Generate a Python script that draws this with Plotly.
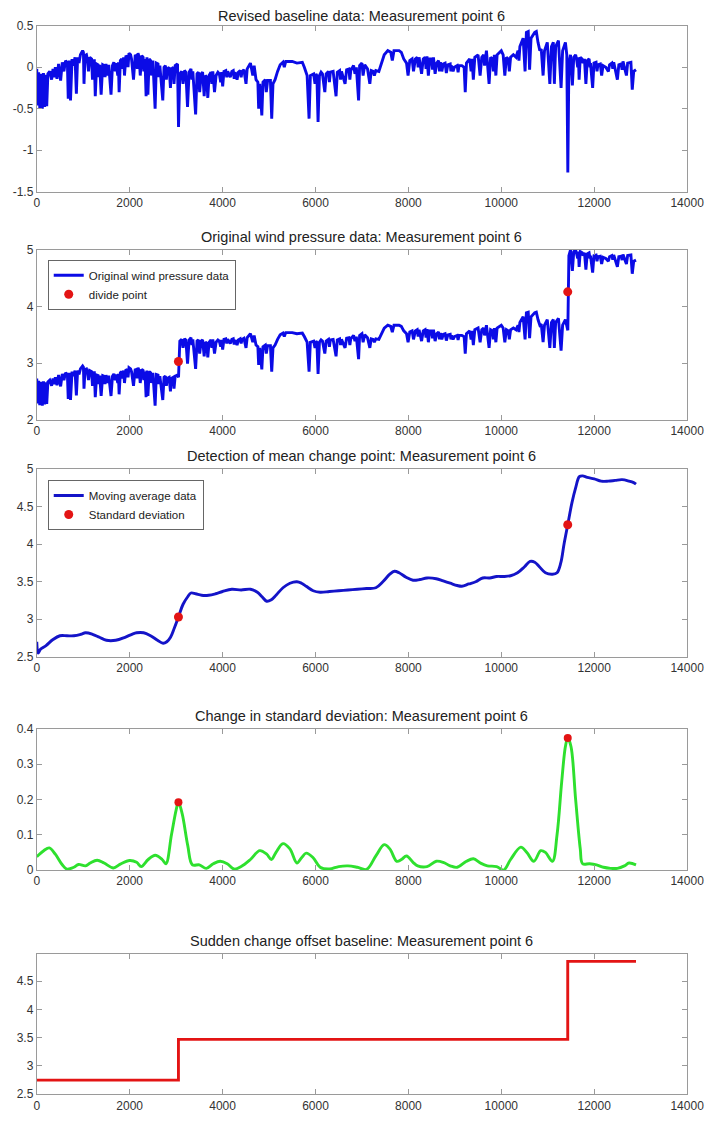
import numpy as np
import plotly.graph_objects as go

# ---------------- data ----------------
# Baseline-corrected residual of the wind pressure record: (sample index, value)
resid_pts = [
    # before the first change point
    (0, -0.02), (20, -0.46), (40, -0.06), (65, -0.49), (90, -0.08), (120, -0.50), (145, -0.07), (170, -0.48), (195, -0.09), (215, -0.47),
    (240, -0.08), (280, -0.05), (320, -0.15), (350, -0.02), (380, -0.12), (400, 0.00), (436, -0.14), (470, 0.04), (514, -0.16), (550, 0.06),
    (585, -0.05), (620, 0.08), (660, 0.05), (678, -0.38), (700, 0.08), (727, -0.40), (760, 0.10), (790, 0.02), (824, 0.12), (853, -0.32),
    (880, 0.12), (910, 0.05), (940, 0.15), (988, 0.20), (1005, 0.18), (1017, -0.20), (1040, 0.14), (1070, 0.15), (1090, 0.10), (1114, -0.05),
    (1140, 0.12), (1180, 0.10), (1200, -0.15), (1218, 0.08), (1240, 0.08), (1260, -0.35), (1290, 0.04), (1320, 0.03), (1335, -0.12), (1355, 0.03),
    (1386, -0.33), (1420, 0.03), (1450, 0.02), (1470, -0.12), (1490, 0.04), (1520, -0.10), (1550, 0.03), (1599, -0.33), (1630, 0.02), (1660, 0.06),
    (1690, -0.05), (1710, 0.05), (1744, -0.10), (1758, 0.06), (1773, -0.30), (1800, 0.08), (1830, 0.10), (1850, -0.02), (1870, 0.12), (1889, -0.10),
    (1920, 0.14), (1950, 0.12), (1965, 0.00), (1986, 0.17), (2020, 0.15), (2040, 0.10), (2083, -0.15), (2120, 0.15), (2150, 0.12), (2165, -0.02),
    (2180, 0.17), (2205, 0.12), (2228, -0.10), (2260, 0.14), (2290, 0.12), (2305, -0.05), (2330, 0.10), (2354, -0.35), (2372, 0.12), (2393, -0.33),
    (2420, 0.10), (2450, 0.08), (2470, -0.10), (2500, 0.08), (2548, -0.50), (2575, 0.05), (2610, 0.04), (2625, -0.12), (2650, 0.02), (2713, -0.40),
    (2740, 0.00), (2770, 0.02), (2790, -0.15), (2810, -0.02), (2850, 0.00), (2878, -0.25), (2900, -0.02), (2940, 0.00), (2955, -0.20), (2980, 0.02),
    (3030, 0.04),
    # between the two change points
    (3052, -0.72), (3080, -0.08), (3120, -0.05), (3149, -0.20), (3180, -0.04), (3210, -0.06), (3246, -0.48), (3280, -0.06), (3320, -0.02), (3340, -0.15),
    (3360, -0.05), (3420, -0.57), (3450, -0.08), (3480, -0.06), (3507, -0.30), (3540, -0.08), (3570, -0.06), (3604, -0.35), (3630, -0.10), (3660, -0.12),
    (3682, -0.37), (3710, -0.10), (3750, -0.06), (3770, -0.20), (3790, -0.05), (3827, -0.30), (3860, -0.10), (3900, -0.06), (3930, -0.08), (3960, -0.18),
    (3980, -0.06), (4002, -0.23), (4030, -0.05), (4070, -0.04), (4090, -0.12), (4110, -0.05), (4166, -0.12), (4200, -0.05), (4230, -0.04), (4250, -0.14),
    (4270, -0.06), (4312, -0.15), (4340, -0.06), (4380, -0.04), (4400, -0.12), (4420, -0.05), (4460, -0.03), (4505, -0.20), (4530, -0.02), (4600, 0.05),
    (4651, -0.10), (4680, 0.02), (4720, -0.15), (4760, -0.18), (4777, -0.50), (4800, -0.20), (4845, -0.58), (4870, -0.18), (4920, -0.15), (4941, -0.30),
    (4970, -0.16), (5030, -0.16), (5058, -0.62), (5085, -0.20), (5130, -0.15), (5184, -0.05), (5240, 0.03), (5300, 0.06), (5329, 0.00), (5360, 0.07),
    (5500, 0.07), (5600, 0.05), (5717, 0.06), (5760, 0.00), (5820, -0.10), (5862, -0.62), (5890, -0.10), (5960, -0.08), (5990, -0.20), (6010, -0.08),
    (6030, -0.10), (6056, -0.66), (6085, -0.10), (6120, -0.06), (6150, -0.08), (6201, -0.30), (6230, -0.08), (6280, -0.05), (6300, -0.18), (6320, -0.06),
    (6380, -0.05), (6443, -0.35), (6470, -0.06), (6520, -0.04), (6540, -0.15), (6560, -0.05), (6637, -0.20), (6670, -0.03), (6720, -0.02), (6740, -0.15),
    (6760, -0.04), (6820, 0.02), (6850, -0.08), (6880, 0.00), (6928, -0.40), (6950, 0.02), (7000, 0.05), (7025, -0.10), (7060, 0.03), (7120, -0.02),
    (7170, -0.20), (7200, -0.04), (7240, -0.05), (7267, -0.10), (7300, -0.04), (7364, -0.05), (7420, 0.05), (7480, 0.15), (7557, 0.20), (7620, 0.18),
    (7654, 0.08), (7690, 0.20), (7800, 0.20), (7848, 0.18), (7900, 0.10), (7960, 0.05), (7993, -0.10), (8030, 0.08), (8080, 0.10), (8110, -0.05),
    (8150, 0.10), (8190, 0.12), (8210, 0.00), (8230, 0.12), (8284, -0.08), (8320, 0.10), (8360, 0.12), (8380, -0.02), (8400, 0.13), (8430, -0.10),
    (8460, 0.10), (8500, 0.10), (8520, -0.03), (8540, 0.12), (8575, -0.08), (8610, 0.05), (8650, 0.08), (8670, -0.05), (8690, 0.06), (8720, -0.05),
    (8750, 0.04), (8790, 0.05), (8817, -0.07), (8850, 0.03), (8900, 0.04), (8915, -0.05), (8930, 0.02), (8962, -0.05), (8990, 0.00), (9050, 0.02),
    (9070, -0.06), (9090, 0.02), (9150, 0.02), (9200, 0.00), (9224, -0.30), (9250, 0.05), (9320, 0.10), (9350, -0.05), (9370, 0.10), (9398, -0.15),
    (9430, 0.12), (9500, 0.15), (9544, -0.10), (9580, 0.12), (9620, 0.15), (9640, 0.02), (9680, 0.20), (9737, -0.20), (9770, 0.12), (9810, 0.10),
    (9830, -0.05), (9850, 0.15), (9883, -0.10), (9910, 0.15), (10000, 0.20), (10040, 0.15), (10076, -0.10), (10110, 0.12), (10150, 0.10), (10173, -0.05),
    (10200, 0.12), (10260, 0.15), (10318, 0.12), (10360, 0.20), (10380, 0.08), (10400, 0.25), (10470, 0.35), (10512, -0.05), (10540, 0.42), (10580, 0.43),
    (10609, -0.03), (10640, 0.35), (10720, 0.42), (10754, 0.43), (10790, 0.30), (10830, 0.20), (10860, 0.22), (10900, -0.10), (10930, 0.20), (10990, 0.30),
    (11045, -0.20), (11080, 0.25), (11120, 0.30), (11142, -0.20), (11170, 0.25), (11230, 0.32), (11287, -0.25), (11320, 0.20), (11380, 0.30), (11410, 0.15),
    # after the second change point
    (11432, -1.27), (11455, 0.05), (11490, 0.15), (11530, -0.22), (11560, 0.12), (11600, 0.15), (11620, 0.10), (11645, 0.00), (11660, 0.12), (11675, -0.15),
    (11700, 0.12), (11740, 0.10), (11760, 0.05), (11790, 0.10), (11821, -0.20), (11850, 0.08), (11890, 0.10), (11910, 0.00), (11920, 0.05), (11966, -0.25),
    (11995, 0.05), (12040, 0.06), (12060, -0.05), (12080, 0.03), (12130, 0.04), (12160, -0.10), (12190, 0.02), (12250, 0.00), (12305, -0.05), (12330, 0.03),
    (12380, 0.05), (12400, -0.02), (12420, 0.06), (12499, -0.15), (12530, 0.03), (12580, 0.04), (12600, -0.03), (12620, 0.07), (12693, -0.10), (12720, 0.05),
    (12790, 0.06), (12819, -0.27), (12850, -0.05), (12900, -0.03),
]
resid_x = [p[0] for p in resid_pts]
resid_y = [p[1] for p in resid_pts]

# Sudden-change offset baseline: change points and step levels
change_points = [3050, 11430]
offset_levels = [2.75, 3.47, 4.85]
record_end = 12900

# Moving average of the pressure record
mavg_x = [0, 30, 80, 200, 350, 500, 650, 800, 950, 1050, 1200, 1350, 1500, 1700, 1900, 2050, 2150, 2300, 2450, 2600,
          2720, 2800, 2880, 2960, 3050, 3150, 3250, 3320, 3420, 3550, 3700, 3850, 4000, 4200, 4400, 4600, 4750, 4850, 4950, 5050,
          5150, 5300, 5450, 5600, 5700, 5800, 5950, 6100, 6300, 6500, 6700, 6900, 7100, 7300, 7450, 7600, 7700, 7800, 7950, 8100,
          8250, 8400, 8600, 8750, 8900, 9050, 9150, 9300, 9450, 9600, 9750, 9900, 10050, 10200, 10350, 10500, 10620, 10720, 10820, 10950,
          11100, 11200, 11280, 11350, 11430, 11520, 11600, 11680, 11750, 11850, 12000, 12150, 12300, 12450, 12600, 12750, 12850, 12900]
mavg_y = [2.70, 2.55, 2.60, 2.65, 2.73, 2.78, 2.78, 2.78, 2.80, 2.82, 2.80, 2.76, 2.72, 2.72, 2.76, 2.80, 2.82, 2.82, 2.78, 2.72,
          2.68, 2.70, 2.76, 2.88, 3.03, 3.20, 3.30, 3.35, 3.34, 3.32, 3.32, 3.34, 3.37, 3.40, 3.39, 3.40, 3.36, 3.30, 3.24, 3.26,
          3.32, 3.42, 3.48, 3.50, 3.48, 3.44, 3.38, 3.36, 3.37, 3.38, 3.39, 3.40, 3.41, 3.42, 3.50, 3.60, 3.64, 3.62, 3.56, 3.52,
          3.53, 3.55, 3.54, 3.51, 3.48, 3.45, 3.44, 3.47, 3.50, 3.55, 3.55, 3.57, 3.57, 3.58, 3.62, 3.70, 3.77, 3.76, 3.70, 3.62,
          3.60, 3.62, 3.75, 4.00, 4.26, 4.55, 4.75, 4.90, 4.91, 4.89, 4.87, 4.84, 4.84, 4.85, 4.86, 4.84, 4.82, 4.80]

# Change in standard deviation
std_x = [0, 150, 270, 400, 550, 650, 800, 900, 1050, 1150, 1300, 1450, 1650, 1800, 2000, 2150, 2250, 2400, 2550, 2700,
         2780, 2900, 3000, 3050, 3130, 3250, 3350, 3500, 3650, 3800, 3950, 4100, 4250, 4400, 4600, 4800, 4950, 5050, 5150, 5300,
         5450, 5600, 5700, 5800, 5950, 6100, 6300, 6500, 6700, 6900, 7100, 7300, 7480, 7600, 7750, 7850, 7960, 8100, 8200, 8400,
         8600, 8750, 8900, 9050, 9250, 9400, 9550, 9700, 9900, 10050, 10200, 10420, 10550, 10700, 10850, 10950, 11100, 11200, 11300, 11380,
         11430, 11500, 11600, 11700, 11750, 11900, 12050, 12200, 12350, 12500, 12650, 12750, 12900]
std_y = [0.038, 0.055, 0.063, 0.045, 0.015, 0.003, 0.008, 0.016, 0.012, 0.020, 0.028, 0.020, 0.006, 0.017, 0.027, 0.022, 0.010, 0.030, 0.042, 0.030,
         0.018, 0.100, 0.170, 0.192, 0.160, 0.070, 0.015, 0.015, 0.005, 0.018, 0.025, 0.018, 0.003, 0.010, 0.030, 0.055, 0.045, 0.030, 0.050, 0.075,
         0.060, 0.020, 0.035, 0.048, 0.035, 0.008, 0.003, 0.010, 0.012, 0.008, 0.002, 0.040, 0.072, 0.060, 0.025, 0.030, 0.040, 0.022, 0.012, 0.010,
         0.025, 0.022, 0.012, 0.008, 0.025, 0.032, 0.020, 0.012, 0.010, 0.000, 0.030, 0.065, 0.050, 0.025, 0.055, 0.050, 0.025, 0.100, 0.250, 0.350,
         0.374, 0.350, 0.200, 0.060, 0.018, 0.018, 0.015, 0.008, 0.005, 0.005, 0.012, 0.020, 0.015]

titles = [
    "Revised baseline data: Measurement point 6",
    "Original wind pressure data: Measurement point 6",
    "Detection of mean change point: Measurement point 6",
    "Change in standard deviation: Measurement point 6",
    "Sudden change offset baseline: Measurement point 6",
]
x_ticks = [0, 2000, 4000, 6000, 8000, 10000, 12000, 14000]
y_ticks = [
    [-1.5, -1, -0.5, 0, 0.5],
    [2, 3, 4, 5],
    [2.5, 3, 3.5, 4, 4.5, 5],
    [0, 0.1, 0.2, 0.3, 0.4],
    [2.5, 3, 3.5, 4, 4.5],
]
y_ranges = [[-1.5, 0.5], [2, 5], [2.5, 5], [0, 0.4], [2.5, 4.98]]

# ---------------- derived series ----------------
rx = np.array(resid_x, dtype=float)
offset_at = np.array(offset_levels)[np.searchsorted(change_points, rx, side="right")]
pressure_y = np.array(resid_y) + offset_at

cp_mavg = [mavg_y[mavg_x.index(c)] for c in change_points]
cp_std = [std_y[std_x.index(c)] for c in change_points]

step_x = [0] + change_points + [record_end]
step_y = offset_levels + [offset_levels[-1]]


def tick_label(v):
    # plain hyphen-minus, MATLAB style
    return f"{v:g}"


# ---------------- styling ----------------
BLUE = "#0b0be6"
RED = "#e31414"
GREEN = "#2ee02e"
FRAME = "#9a9a9a"
TEXT = "#333333"
FONT = "Liberation Sans, Arial, sans-serif"
LW = 2.9

W, H = 726, 1122
x_dom = [34.7 / W, 703.5 / W]
panel_px = [(19, 187), (246, 418), (468, 658), (731, 874), (959, 1101)]
y_doms = [[1 - b / H, 1 - t / H] for t, b in panel_px]

fig = go.Figure()

# panel 1: revised baseline residual
fig.add_trace(go.Scatter(x=resid_x, y=resid_y, mode="lines", line=dict(color=BLUE, width=LW),
                         showlegend=False, xaxis="x", yaxis="y"))
# panel 2: original pressure with divide points
fig.add_trace(go.Scatter(x=resid_x, y=pressure_y, mode="lines", line=dict(color=BLUE, width=LW),
                         name="Original wind pressure data", legend="legend", xaxis="x2", yaxis="y2"))
fig.add_trace(go.Scatter(x=change_points, y=cp_mavg, mode="markers", marker=dict(color=RED, size=9),
                         name="divide point", legend="legend", xaxis="x2", yaxis="y2"))
# panel 3: moving average with detected change points
fig.add_trace(go.Scatter(x=mavg_x, y=mavg_y, mode="lines", line=dict(color="#1414c8", width=LW, shape="spline"),
                         name="Moving average data", legend="legend2", xaxis="x3", yaxis="y3"))
fig.add_trace(go.Scatter(x=change_points, y=cp_mavg, mode="markers", marker=dict(color=RED, size=9),
                         name="Standard deviation", legend="legend2", xaxis="x3", yaxis="y3"))
# panel 4: standard deviation change
fig.add_trace(go.Scatter(x=std_x, y=std_y, mode="lines", line=dict(color=GREEN, width=LW, shape="spline"),
                         showlegend=False, xaxis="x4", yaxis="y4"))
fig.add_trace(go.Scatter(x=change_points, y=cp_std, mode="markers", marker=dict(color=RED, size=8),
                         showlegend=False, xaxis="x4", yaxis="y4"))
# panel 5: step offset baseline
fig.add_trace(go.Scatter(x=step_x, y=step_y, mode="lines", line=dict(color=RED, width=LW, shape="hv"),
                         showlegend=False, xaxis="x5", yaxis="y5"))

axis_common = dict(showline=True, linecolor=FRAME, linewidth=1, mirror="ticks", ticks="inside",
                   ticklen=5, tickcolor=FRAME, showgrid=False, zeroline=False,
                   tickfont=dict(family=FONT, size=12, color=TEXT))

layout = dict(width=W, height=H, margin=dict(l=0, r=0, t=0, b=0),
              paper_bgcolor="white", plot_bgcolor="white", annotations=[])
for i in range(5):
    k = "" if i == 0 else str(i + 1)
    layout["xaxis" + k] = dict(domain=x_dom, range=[0, 14000], tickvals=x_ticks,
                               ticktext=[tick_label(v) for v in x_ticks],
                               anchor="y" + k, **axis_common)
    layout["yaxis" + k] = dict(domain=y_doms[i], anchor="x" + k, range=y_ranges[i],
                               tickvals=y_ticks[i], ticktext=[tick_label(v) for v in y_ticks[i]],
                               **axis_common)
    layout["annotations"].append(dict(text=titles[i], xref="paper", yref="paper",
                                      x=(x_dom[0] + x_dom[1]) / 2, y=y_doms[i][1],
                                      xanchor="center", yanchor="bottom", yshift=3 if i else 0,
                                      showarrow=False,
                                      font=dict(family=FONT, size=14.5, color="#222222")))

legend_common = dict(xanchor="left", yanchor="top", bgcolor="white", bordercolor="#666666", borderwidth=1,
                     font=dict(family=FONT, size=11.5, color="#222222"), tracegroupgap=0)
layout["legend"] = dict(x=46 / W, y=1 - 256 / H, **legend_common)
layout["legend2"] = dict(x=46 / W, y=1 - 479 / H, **legend_common)

fig.update_layout(**layout)

# keep the page flush with the figure (no default body margin / scrollbars)
page_css = "document.body.style.margin='0';document.body.style.overflow='hidden';"
fig.write_html("out.html", post_script=page_css)
